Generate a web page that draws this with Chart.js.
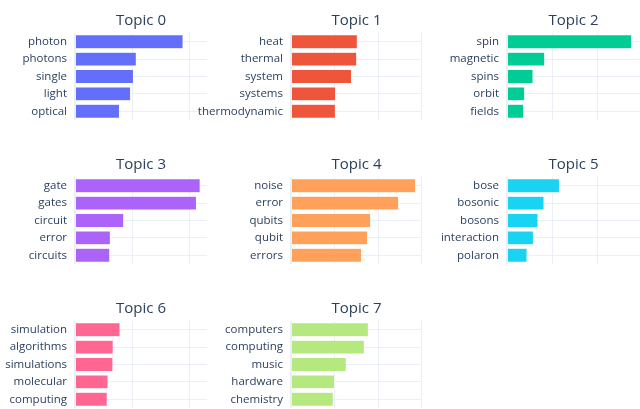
<!DOCTYPE html>
<html><head><meta charset="utf-8">
<script src="https://cdn.jsdelivr.net/npm/chart.js@4/dist/chart.umd.min.js"></script>
<style>
html,body{margin:0;padding:0;background:#fff}
#wrap{position:relative;width:640px;height:409px;overflow:hidden;background:#fff}
canvas{position:absolute}
</style>
</head><body>
<div id="wrap"></div>
<script>
// ---- data ----
const topicTitles = ["Topic 0","Topic 1","Topic 2","Topic 3","Topic 4","Topic 5","Topic 6","Topic 7"];
const words0 = ["photon","photons","single","light","optical"];
const scores0 = [0.0379,0.0215,0.0205,0.0195,0.0156];
const words1 = ["heat","thermal","system","systems","thermodynamic"];
const scores1 = [0.01524,0.0151,0.0139,0.01025,0.0102];
const words2 = ["spin","magnetic","spins","orbit","fields"];
const scores2 = [0.0554,0.01676,0.01156,0.00787,0.0074];
const words3 = ["gate","gates","circuit","error","circuits"];
const scores3 = [0.0439,0.0426,0.0171,0.0124,0.0122];
const words4 = ["noise","error","qubits","qubit","errors"];
const scores4 = [0.02864,0.02474,0.0183,0.0176,0.0162];
const words5 = ["bose","bosonic","bosons","interaction","polaron"];
const scores5 = [0.0233,0.01644,0.01378,0.01173,0.0089];
const words6 = ["simulation","algorithms","simulations","molecular","computing"];
const scores6 = [0.0158,0.0134,0.0133,0.0116,0.0113];
const words7 = ["computers","computing","music","hardware","chemistry"];
const scores7 = [0.01777,0.01685,0.0127,0.0100,0.0097];
const barColors = ["#636EFA","#EF553B","#00CC96","#AB63FA","#FFA15A","#19D3F3","#FF6692","#B6E880"];
// x-axis ranges per column (shared within column)
const colMax = [0.0463,0.0301,0.0591];
const colStep = [0.02,0.01,0.02];

const allWords = [words0,words1,words2,words3,words4,words5,words6,words7];
const allScores = [scores0,scores1,scores2,scores3,scores4,scores5,scores6,scores7];

// ---- layout ----
const colGeom = [
  {left:0,   labelW:75,  plotW:132},
  {left:191, labelW:100, plotW:131},
  {left:417, labelW:90,  plotW:133}
];
const rowTops = [0,144,288];
const titleH = 33, plotH = 87;
const gridColor = "#EBF0F8";
const textColor = "#2a3f5f";
const fontFamily = "'Open Sans', 'DejaVu Sans', sans-serif";

const wrap = document.getElementById('wrap');
for (let i = 0; i < topicTitles.length; i++) {
  const col = i % 3, row = Math.floor(i / 3);
  const g = colGeom[col];
  const cv = document.createElement('canvas');
  const w = g.labelW + g.plotW, h = titleH + plotH;
  cv.width = w; cv.height = h;
  cv.style.left = g.left + 'px';
  cv.style.top = rowTops[row] + 'px';
  cv.style.width = w + 'px'; cv.style.height = h + 'px';
  wrap.appendChild(cv);
  new Chart(cv, {
    type: 'bar',
    data: {
      labels: allWords[i],
      datasets: [{
        data: allScores[i],
        backgroundColor: barColors[i],
        borderColor: 'rgba(255,255,255,0.6)',
        borderWidth: 0.5,
        barPercentage: 0.8,
        categoryPercentage: 1.0
      }]
    },
    options: {
      indexAxis: 'y',
      responsive: false,
      animation: false,
      devicePixelRatio: 1,
      layout: {padding: 0},
      plugins: {
        legend: {display: false},
        tooltip: {enabled: false},
        title: {
          display: true,
          text: topicTitles[i],
          fullSize: false,
          color: textColor,
          font: {family: fontFamily, size: 15, weight: 'normal', lineHeight: 1.2},
          padding: {top: 12, bottom: 3}
        }
      },
      scales: {
        x: {
          type: 'linear',
          min: 0,
          max: colMax[col],
          position: 'bottom',
          border: {display: false},
          grid: {
            color: gridColor,
            drawTicks: false,
            lineWidth: (ctx) => (ctx.tick && ctx.tick.value === 0 ? 2 : 1)
          },
          ticks: {display: false, stepSize: colStep[col], includeBounds: false},
          afterFit: (s) => { s.height = 0; s.paddingLeft = 0; s.paddingRight = 0; }
        },
        y: {
          type: 'category',
          border: {display: false},
          grid: {color: gridColor, drawTicks: false, offset: false},
          ticks: {color: textColor, padding: 8, autoSkip: false, font: {family: fontFamily, size: 11.5}},
          afterFit: (s) => { s.width = g.labelW; s.paddingTop = 0; s.paddingBottom = 0; }
        }
      }
    }
  });
}
</script>
</body></html>
